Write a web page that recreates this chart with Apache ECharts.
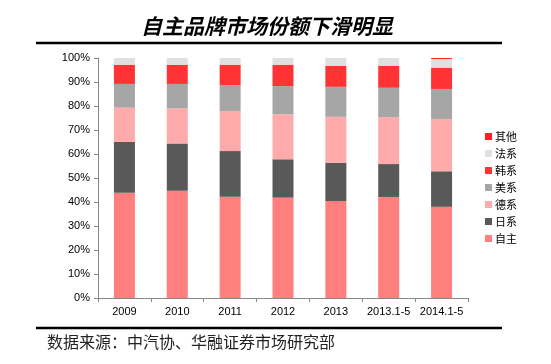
<!DOCTYPE html>
<html><head><meta charset="utf-8">
<script src="https://cdn.jsdelivr.net/npm/echarts@6/dist/echarts.min.js"></script>
<style>html,body{margin:0;padding:0;background:#fff}#c{width:551px;height:364px}</style>
</head><body><div id="c"></div>
<script>
const categories = ['2009','2010','2011','2012','2013','2013.1-5','2014.1-5'];
const ziZhu  = [43.9, 44.7, 42.2, 41.8, 40.4, 42.1, 38.0];
const riXi   = [21.1, 19.7, 19.0, 16.0, 16.0, 13.7, 14.8];
const deXi   = [14.3, 14.6, 16.7, 18.7, 19.1, 19.5, 21.8];
const meiXi  = [9.9, 10.2, 10.8, 11.8, 12.5, 12.3, 12.5];
const hanXi  = [8.0, 8.0, 8.5, 8.9, 8.8, 9.2, 8.9];
const faXi   = [2.8, 2.8, 2.8, 2.8, 3.2, 3.2, 3.6];
const qiTa   = [0, 0, 0, 0, 0, 0, 0.4];
const yTicks = ['0%','10%','20%','30%','40%','50%','60%','70%','80%','90%','100%'];

const seriesDefs = [
  ['自主', ziZhu, '#FF7F7F'],
  ['日系', riXi, '#595959'],
  ['德系', deXi, '#FFABAB'],
  ['美系', meiXi, '#A6A6A6'],
  ['韩系', hanXi, '#FF3333'],
  ['法系', faXi, '#E0E0E0'],
  ['其他', qiTa, '#FF2020']
];
const chart = echarts.init(document.getElementById('c'));
chart.setOption({
  animation: false,
  title: {
    text: '自主品牌市场份额下滑明显',
    left: 262, top: 11, textAlign: 'center',
    textStyle: {fontFamily: 'Noto Sans CJK SC', fontSize: 21, fontWeight: 'bold', fontStyle: 'italic', color: '#000'}
  },
  legend: {
    orient: 'vertical', left: 480, top: 126, itemGap: 6,
    itemWidth: 7, itemHeight: 7, icon: 'rect',
    data: ['其他','法系','韩系','美系','德系','日系','自主'],
    textStyle: {fontFamily: 'Noto Sans CJK SC', fontSize: 11, color: '#000', padding: [0,0,0,-2]}
  },
  grid: {left: 98, right: 83, top: 58, bottom: 66},
  xAxis: {
    type: 'category', data: categories,
    axisLine: {lineStyle: {color: '#888'}},
    axisTick: {show: true, length: 4, lineStyle: {color: '#888'}},
    axisLabel: {fontFamily: 'Liberation Sans', fontSize: 11, color: '#000', margin: 8, interval: 0, hideOverlap: false}
  },
  yAxis: {
    type: 'value', min: 0, max: 100, interval: 10,
    axisLine: {show: true, lineStyle: {color: '#888'}},
    axisTick: {show: true, length: 4, lineStyle: {color: '#888'}},
    splitLine: {show: false},
    axisLabel: {fontFamily: 'Liberation Sans', fontSize: 11, color: '#000', margin: 8,
      formatter: v => yTicks[Math.round(v/10)]}
  },
  graphic: [
    {type: 'line', shape: {x1: 36, y1: 43, x2: 502, y2: 43}, style: {stroke: '#000', lineWidth: 2.5}},
    {type: 'line', shape: {x1: 36, y1: 328, x2: 502, y2: 328}, style: {stroke: '#000', lineWidth: 2.5}},
    {type: 'text', left: 47, top: 334, style: {text: '数据来源：中汽协、华融证券市场研究部', font: '16px "Noto Sans CJK SC"', fill: '#222'}}
  ],
  series: seriesDefs.map(([n, d, c]) => ({
    name: n, type: 'bar', stack: 'all', data: d, barWidth: 21,
    itemStyle: {color: c}
  }))
});
</script></body></html>
